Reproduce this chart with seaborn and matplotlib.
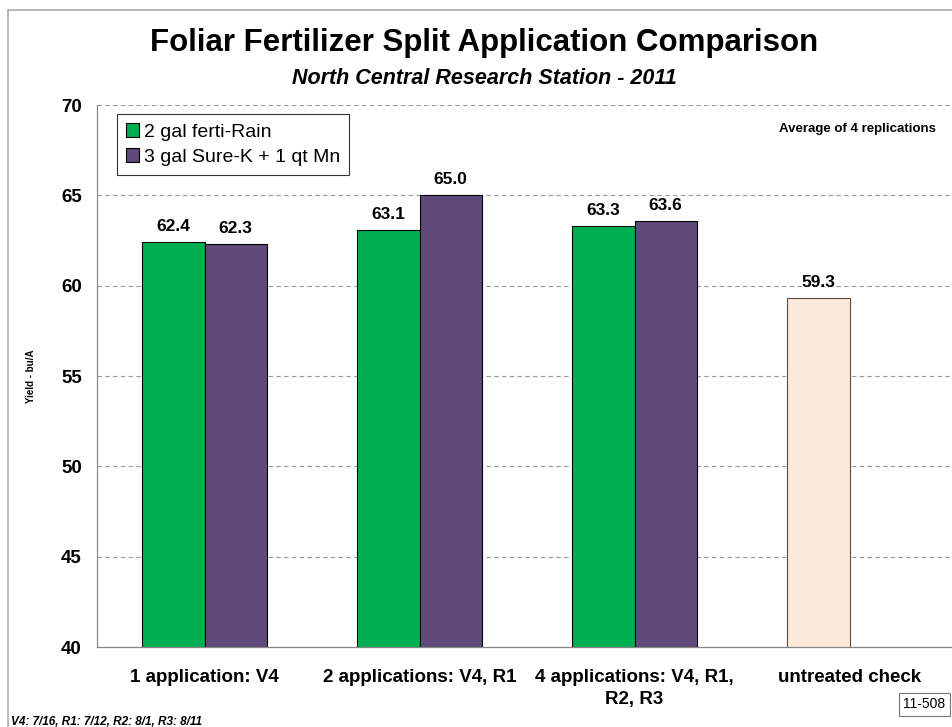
import numpy as np
import pandas as pd
import matplotlib
matplotlib.use('Agg')
import matplotlib.pyplot as plt
import seaborn as sns
from matplotlib.patches import Rectangle, Patch

categories = ['1 application: V4', '2 applications: V4, R1',
              '4 applications: V4, R1,\nR2, R3', 'untreated check']
series = ['2 gal ferti-Rain', '3 gal Sure-K + 1 qt Mn']
ferti_rain = [62.4, 63.1, 63.3, 59.3]
sure_k = [62.3, 65.0, 63.6, np.nan]
yticks = [40, 45, 50, 55, 60, 65, 70]

colors = {series[0]: '#00B050', series[1]: '#604A7B'}
check_color = '#FDE9D9'

df = pd.DataFrame({
    'cat': categories * 2,
    'trt': [series[0]] * 4 + [series[1]] * 4,
    'yield': ferti_rain + sure_k,
})

sns.set_style('white')
plt.rcParams['font.family'] = ['Liberation Sans', 'DejaVu Sans']
plt.rcParams['text.color'] = 'black'
plt.rcParams['xtick.color'] = 'black'
plt.rcParams['ytick.color'] = 'black'
plt.rcParams['axes.labelcolor'] = 'black'

fig = plt.figure(figsize=(9.53, 7.27), dpi=100)
ax = fig.add_axes([0.1018, 0.110, 0.9024, 0.7455])

sns.barplot(data=df, x='cat', y='yield', hue='trt', order=categories,
            hue_order=series, palette=colors, width=0.58, ax=ax, saturation=1,
            edgecolor='black', linewidth=0.8, legend=False, errorbar=None)

# untreated check gets its own colour
for p in ax.patches:
    if abs(p.get_height() - ferti_rain[3]) < 1e-6 and p.get_x() > 2.5:
        p.set_facecolor(check_color)
        p.set_edgecolor('#5a4a40')

# value labels
for p in ax.patches:
    h = p.get_height()
    if np.isnan(h) or h == 0:
        continue
    ax.text(p.get_x() + p.get_width() / 2, h + 0.45, f'{h:.1f}',
            ha='center', va='bottom', fontsize=12.5, fontweight='bold')

ax.set_ylim(40, 70)
ax.set_xlim(-0.5, 3.5)
ax.set_yticks(yticks)
ax.set_yticklabels([str(t) for t in yticks], fontsize=13.5, fontweight='bold')
ax.set_xticks(range(4))
ax.set_xticklabels(categories, fontsize=13.5, fontweight='bold', linespacing=1.35)
ax.tick_params(axis='x', length=0, pad=16)
ax.set_xticks(np.arange(-0.5, 3.6, 1), minor=True)
ax.tick_params(axis='x', which='minor', length=6, color='#888888', direction='out')
ax.tick_params(axis='y', length=5, color='#888888', direction='out', width=0.8, pad=6)
ax.set_xlabel('')
ax.set_ylabel('Yield - bu/A', fontsize=7, fontweight='bold', labelpad=18)

ax.yaxis.grid(True, linestyle=(0, (4, 3)), color='#999999', linewidth=0.8)
ax.set_axisbelow(True)
for s in ['top', 'right']:
    ax.spines[s].set_visible(False)
for s in ['left', 'bottom']:
    ax.spines[s].set_color('#888888')
    ax.spines[s].set_linewidth(0.9)

handles = [Patch(facecolor=colors[s], edgecolor='black', linewidth=0.8, label=s) for s in series]
leg = ax.legend(handles=handles, loc='upper left', bbox_to_anchor=(0.023, 0.983),
                fontsize=14, frameon=True, fancybox=False, handlelength=0.7,
                handleheight=0.7, handletextpad=0.25, borderpad=0.45,
                labelspacing=0.4, borderaxespad=0)
leg.get_frame().set_edgecolor('black')
leg.get_frame().set_linewidth(0.8)

ax.text(0.975, 0.955, 'Average of 4 replications', transform=ax.transAxes,
        ha='right', va='center', fontsize=9.5, fontweight='bold')

fig.text(0.508, 0.941, 'Foliar Fertilizer Split Application Comparison',
         ha='center', va='center', fontsize=22.5, fontweight='bold')
fig.text(0.508, 0.892, 'North Central Research Station - 2011',
         ha='center', va='center', fontsize=15.5, fontweight='bold', style='italic')

fig.text(0.012, 0.007, 'V4: 7/16, R1: 7/12, R2: 8/1, R3: 8/11',
         ha='left', va='center', fontsize=8.5, fontweight='bold', style='italic')
fig.text(0.970, 0.031, '11-508', ha='center', va='center', fontsize=10,
         bbox=dict(boxstyle='square,pad=0.3', facecolor='white', edgecolor='#777777', linewidth=0.8))

# outer chart frame
fig.add_artist(Rectangle((0.0085, -0.01), 1.2, 0.996, transform=fig.transFigure,
                         fill=False, edgecolor='#aaaaaa', linewidth=1.2))

fig.savefig('out.png', dpi=100)
